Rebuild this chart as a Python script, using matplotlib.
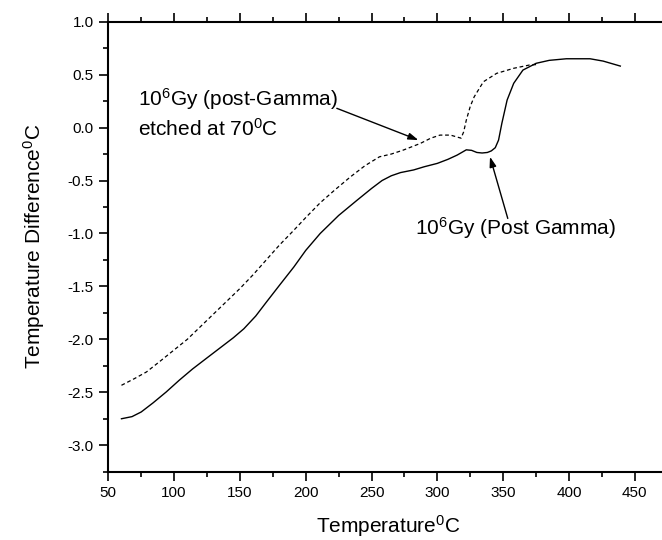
import matplotlib
matplotlib.use("Agg")
import matplotlib.pyplot as plt
from matplotlib.ticker import MultipleLocator

plt.rcParams["font.family"] = ["Liberation Sans", "DejaVu Sans"]
plt.rcParams["mathtext.fontset"] = "custom"
plt.rcParams["mathtext.rm"] = "Liberation Sans"

# Data
# solid curve: 10^6 Gy (Post Gamma)
post_x = [60, 68, 75, 84, 94, 104, 114, 125, 135, 145, 153, 162, 170, 180,
          191, 200, 211, 225, 239, 250, 258, 265, 272, 282, 290, 300, 308,
          315, 322, 326, 330, 334, 338, 341, 344, 346.5, 349, 353, 358, 365,
          375, 385, 398, 416, 426, 439]
post_y = [-2.75, -2.73, -2.686, -2.60, -2.497, -2.385, -2.28, -2.175, -2.08,
          -1.985, -1.90, -1.78, -1.65, -1.49, -1.316, -1.16, -1.0, -0.83,
          -0.686, -0.575, -0.50, -0.455, -0.425, -0.40, -0.37, -0.338, -0.30,
          -0.26, -0.21, -0.215, -0.235, -0.24, -0.235, -0.22, -0.19, -0.118,
          0.04, 0.26, 0.418, 0.543, 0.607, 0.635, 0.65, 0.65, 0.628, 0.581]

# dashed curve: 10^6 Gy (post-Gamma) etched at 70C
etched_x = [60, 70, 79, 89, 99, 110, 120, 130, 140, 150, 160, 170, 180, 191,
            200, 211, 222, 234, 245, 256, 265, 274, 287, 295, 302, 310, 318,
            320, 322, 325, 328, 335, 345, 358, 370, 375]
etched_y = [-2.434, -2.37, -2.308, -2.21, -2.11, -2.0, -1.88, -1.76, -1.64,
            -1.52, -1.39, -1.25, -1.11, -0.969, -0.85, -0.71, -0.59, -0.465,
            -0.36, -0.276, -0.25, -0.213, -0.15, -0.10, -0.071, -0.071, -0.10,
            -0.04, 0.071, 0.2, 0.291, 0.433, 0.512, 0.56, 0.591, 0.595]

x_ticks = [50, 100, 150, 200, 250, 300, 350, 400, 450]
y_ticks = [1.0, 0.5, 0.0, -0.5, -1.0, -1.5, -2.0, -2.5, -3.0]

fig = plt.figure(figsize=(6.62, 5.4), dpi=100)
ax = fig.add_axes([0.1636, 0.1265, 0.845, 0.8333])

ax.plot(post_x, post_y, color="black", lw=1.0)
ax.plot(etched_x, etched_y, color="black", lw=0.9, linestyle=(0, (3, 2.2)))

ax.set_xlim(50, 475)
ax.set_ylim(-3.25, 1.0)
ax.set_xticks(x_ticks)
ax.set_yticks(y_ticks)
ax.set_yticklabels([f"{v:.1f}" for v in y_ticks])
ax.xaxis.set_minor_locator(MultipleLocator(25))
ax.yaxis.set_minor_locator(MultipleLocator(0.25))

ax.spines["right"].set_visible(False)
for s in ["left", "bottom", "top"]:
    ax.spines[s].set_linewidth(1.5)

ax.tick_params(which="both", direction="out", top=True, right=False,
               labelsize=11, width=1.2, pad=4)
ax.tick_params(which="major", length=6.5)
ax.tick_params(which="minor", length=3.5)

ax.set_xlabel(r"Temperature$\mathregular{^0}$C", fontsize=15, labelpad=9)
ax.set_ylabel(r"Temperature Difference$\mathregular{^0}$C", fontsize=15, labelpad=15)

# annotations
ax.text(72.8, 0.203, r"10$\mathregular{^6}$Gy (post-Gamma)", fontsize=15)
ax.text(72.8, -0.077, r"etched at 70$\mathregular{^0}$C", fontsize=15)
ax.annotate("", xy=(285.6, -0.118), xytext=(223.6, 0.182),
            arrowprops=dict(arrowstyle="-|>,head_length=0.6,head_width=0.2",
                            color="black", lw=1.0, mutation_scale=10,
                            shrinkA=0, shrinkB=0))

ax.text(283, -1.016, r"10$\mathregular{^6}$Gy (Post Gamma)", fontsize=15)
ax.annotate("", xy=(340, -0.276), xytext=(353.5, -0.858),
            arrowprops=dict(arrowstyle="-|>,head_length=0.6,head_width=0.2",
                            color="black", lw=1.0, mutation_scale=10,
                            shrinkA=0, shrinkB=0))

plt.savefig("out.png", dpi=100)
plt.close()
